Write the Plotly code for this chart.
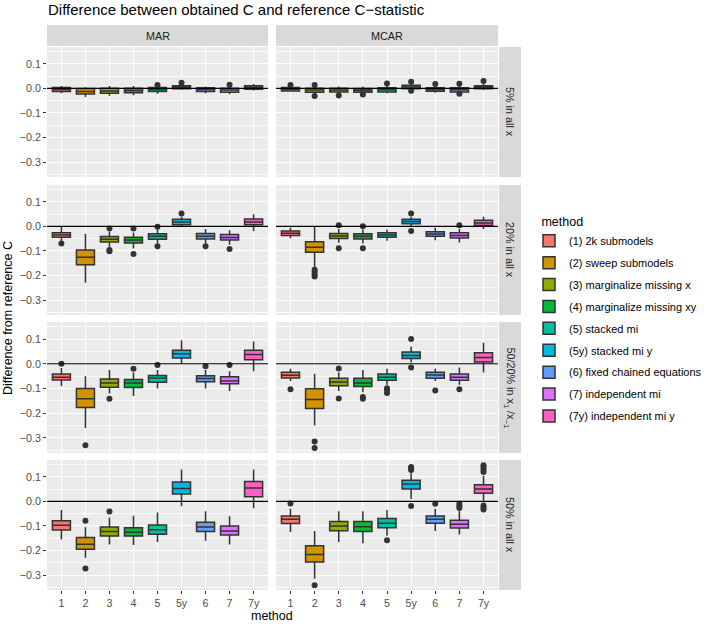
import plotly.graph_objects as go

# categories and labels
methods = ["1", "2", "3", "4", "5", "5y", "6", "7", "7y"]
method_names = ["(1) 2k submodels", "(2) sweep submodels", "(3) marginalize missing x",
                "(4) marginalize missing xy", "(5) stacked mi", "(5y) stacked mi y",
                "(6) fixed chained equations", "(7) independent mi", "(7y) independent mi y"]
colors = ["#F8766D", "#D39200", "#93AA00", "#00BA38", "#00C19F",
          "#00B9E3", "#619CFF", "#DB72FB", "#FF61C3"]
col_labels = ["MAR", "MCAR"]
row_labels = ["5% in all x", "20% in all x",
              "50/20% in x<sub>1</sub> /x<sub>−1</sub>", "50% in all x"]
ytick_vals = [-0.3, -0.2, -0.1, 0.0, 0.1]
ytick_text = ["−0.3", "−0.2", "−0.1", "0.0", "0.1"]

# box statistics (one dict per panel)
MAR_05 = dict(
    q1=[-0.012, -0.023, -0.020, -0.018, -0.012, -0.001, -0.012, -0.015, -0.003],
    med=[-0.004, -0.012, -0.010, -0.008, -0.004, 0.005, -0.004, -0.006, 0.004],
    q3=[0.004, 0.000, 0.001, 0.001, 0.004, 0.011, 0.003, 0.001, 0.011],
    lo=[-0.020, -0.035, -0.030, -0.028, -0.022, -0.005, -0.020, -0.024, -0.008],
    hi=[0.010, 0.005, 0.010, 0.010, 0.008, 0.015, 0.008, 0.008, 0.018],
    out=[[], [], [], [], [0.014], [0.023], [], [0.015], []])
MCAR_05 = dict(
    q1=[-0.010, -0.015, -0.014, -0.015, -0.014, -0.001, -0.011, -0.014, -0.001],
    med=[-0.003, -0.006, -0.006, -0.007, -0.005, 0.006, -0.004, -0.005, 0.005],
    q3=[0.004, 0.001, 0.001, 0.000, 0.003, 0.013, 0.003, 0.003, 0.011],
    lo=[-0.013, -0.022, -0.020, -0.020, -0.020, -0.005, -0.018, -0.018, -0.006],
    hi=[0.008, 0.010, 0.008, 0.008, 0.010, 0.020, 0.010, 0.010, 0.020],
    out=[[0.014], [0.014, -0.031], [-0.029], [-0.025], [0.020], [0.027, -0.009],
         [0.018], [0.019, -0.022], [0.030]])
MAR_20 = dict(
    q1=[-0.044, -0.156, -0.063, -0.067, -0.052, 0.007, -0.051, -0.055, 0.007],
    med=[-0.035, -0.126, -0.052, -0.055, -0.040, 0.018, -0.040, -0.045, 0.018],
    q3=[-0.026, -0.096, -0.041, -0.044, -0.030, 0.029, -0.029, -0.033, 0.030],
    lo=[-0.058, -0.230, -0.085, -0.090, -0.068, 0.000, -0.070, -0.075, -0.020],
    hi=[-0.002, -0.030, -0.022, -0.025, -0.012, 0.040, -0.010, -0.015, 0.050],
    out=[[-0.070], [], [-0.008, -0.096, -0.101], [-0.008, -0.112], [-0.001, -0.081],
         [0.053], [-0.081], [-0.092], []])
MCAR_20 = dict(
    q1=[-0.037, -0.105, -0.049, -0.051, -0.044, 0.011, -0.040, -0.047, 0.004],
    med=[-0.028, -0.085, -0.039, -0.040, -0.035, 0.020, -0.031, -0.037, 0.014],
    q3=[-0.019, -0.062, -0.029, -0.030, -0.026, 0.029, -0.022, -0.026, 0.025],
    lo=[-0.048, -0.167, -0.066, -0.070, -0.058, 0.000, -0.056, -0.065, -0.010],
    hi=[-0.005, -0.002, -0.010, -0.012, -0.012, 0.040, -0.005, -0.010, 0.040],
    out=[[], [-0.177, -0.185, -0.195, -0.204], [0.005, -0.089], [0.001, -0.089], [],
         [0.053, -0.019], [], [0.005], []])
MAR_5020 = dict(
    q1=[-0.066, -0.177, -0.095, -0.096, -0.075, 0.023, -0.073, -0.081, 0.016],
    med=[-0.055, -0.142, -0.078, -0.078, -0.058, 0.041, -0.060, -0.070, 0.038],
    q3=[-0.041, -0.100, -0.062, -0.064, -0.047, 0.055, -0.048, -0.053, 0.055],
    lo=[-0.090, -0.260, -0.120, -0.130, -0.100, 0.000, -0.100, -0.110, -0.030],
    hi=[-0.017, -0.050, -0.025, -0.035, -0.025, 0.095, -0.025, -0.030, 0.090],
    out=[[0.0], [-0.330], [-0.142], [-0.020], [-0.005], [], [-0.010], [-0.005], []])
MCAR_5020 = dict(
    q1=[-0.058, -0.181, -0.089, -0.092, -0.067, 0.021, -0.059, -0.067, 0.007],
    med=[-0.046, -0.145, -0.074, -0.078, -0.055, 0.033, -0.045, -0.055, 0.025],
    q3=[-0.034, -0.101, -0.059, -0.059, -0.041, 0.048, -0.034, -0.041, 0.045],
    lo=[-0.070, -0.250, -0.110, -0.115, -0.085, 0.005, -0.070, -0.085, -0.035],
    hi=[-0.020, -0.040, -0.035, -0.025, -0.020, 0.070, -0.020, -0.015, 0.085],
    out=[[-0.103], [-0.314, -0.341], [-0.019, -0.140], [-0.134, -0.142],
         [-0.099, -0.105, -0.118], [0.100, -0.015], [-0.108], [-0.103], []])
MAR_50 = dict(
    q1=[-0.116, -0.195, -0.141, -0.141, -0.134, 0.030, -0.123, -0.137, 0.019],
    med=[-0.097, -0.174, -0.122, -0.126, -0.115, 0.053, -0.104, -0.120, 0.055],
    q3=[-0.079, -0.147, -0.104, -0.107, -0.096, 0.079, -0.085, -0.100, 0.081],
    lo=[-0.155, -0.230, -0.175, -0.178, -0.165, -0.020, -0.160, -0.175, -0.028],
    hi=[-0.035, -0.105, -0.065, -0.058, -0.045, 0.130, -0.040, -0.060, 0.130],
    out=[[], [-0.079, -0.273], [-0.041], [], [], [], [], [], []])
MCAR_50 = dict(
    q1=[-0.090, -0.247, -0.119, -0.122, -0.107, 0.051, -0.089, -0.108, 0.033],
    med=[-0.073, -0.216, -0.100, -0.103, -0.089, 0.071, -0.073, -0.093, 0.051],
    q3=[-0.059, -0.181, -0.082, -0.082, -0.070, 0.086, -0.059, -0.077, 0.068],
    lo=[-0.125, -0.315, -0.165, -0.170, -0.140, 0.010, -0.120, -0.135, 0.003],
    hi=[-0.030, -0.120, -0.040, -0.040, -0.035, 0.115, -0.030, -0.040, 0.105],
    out=[[-0.008], [-0.342], [], [], [-0.158], [0.128, 0.135, 0.140, -0.019], [-0.009],
         [-0.009, -0.019, -0.027], [0.120, 0.130, 0.140, 0.148, -0.016, -0.025, -0.033]])

panels = [[MAR_05, MCAR_05], [MAR_20, MCAR_20], [MAR_5020, MCAR_5020], [MAR_50, MCAR_50]]

W, H = 709, 624
FONT = "Liberation Sans, Arial, sans-serif"


def px_x(p):
    return p / W


def px_y(p):
    return 1 - p / H


def label(text, x, y, size, angle=0, xanchor="center", color="#1A1A1A"):
    # text placed at window pixel (x, y)
    return dict(text=text, xref="paper", yref="paper", x=px_x(x), y=px_y(y),
                xanchor=xanchor, yanchor="middle", textangle=angle, showarrow=False,
                font=dict(size=size, color=color, family=FONT))


# panel pixel layout
col_px = [(47, 268), (276, 498)]
row_px = [(47, 177), (185, 315), (322, 453), (460, 590)]
strip_top = (25, 46)
strip_right = (499, 521)

fig = go.Figure()
layout = {}
shapes = []
annotations = []

for r in range(4):
    for c in range(2):
        i = r * 2 + c + 1
        sfx = "" if i == 1 else str(i)
        xa, ya = "x" + sfx, "y" + sfx
        d = panels[r][c]
        for k, m in enumerate(methods):
            fig.add_trace(go.Box(
                x=[m], q1=[d["q1"][k]], median=[d["med"][k]], q3=[d["q3"][k]],
                lowerfence=[d["lo"][k]], upperfence=[d["hi"][k]],
                fillcolor=colors[k], line=dict(color="#333333", width=1.5),
                width=0.75, whiskerwidth=0, boxpoints=False,
                name=method_names[k], legendgroup=method_names[k],
                showlegend=(i == 1), xaxis=xa, yaxis=ya, hoverinfo="skip"))
            if d["out"][k]:
                fig.add_trace(go.Scatter(
                    x=[m] * len(d["out"][k]), y=d["out"][k], mode="markers",
                    marker=dict(color="#333333", size=6), showlegend=False,
                    xaxis=xa, yaxis=ya, hoverinfo="skip"))
        bottom = r == 3
        left = c == 0
        layout["xaxis" + sfx] = dict(
            domain=[px_x(col_px[c][0]), px_x(col_px[c][1])], anchor=ya,
            type="category", categoryorder="array", categoryarray=methods,
            range=[-0.6, 8.6], showgrid=True, gridcolor="white", gridwidth=1.1,
            zeroline=False, showline=False, showticklabels=bottom, automargin=False,
            ticks="outside" if bottom else "", ticklen=3, tickcolor="#333333",
            tickfont=dict(size=10.7, color="#4D4D4D", family=FONT))
        layout["yaxis" + sfx] = dict(
            domain=[px_y(row_px[r][1]), px_y(row_px[r][0])], anchor=xa,
            range=[-0.361, 0.169], tickvals=ytick_vals, ticktext=ytick_text,
            showgrid=True, gridcolor="white", gridwidth=1.1, zeroline=False,
            minor=dict(tickvals=[-0.35, -0.25, -0.15, -0.05, 0.05, 0.15],
                       showgrid=True, gridcolor="#FAFAFA", gridwidth=0.6),
            showticklabels=left, ticks="outside" if left else "", ticklen=3,
            tickcolor="#333333", automargin=False,
            tickfont=dict(size=10.7, color="#4D4D4D", family=FONT))
        # horizontal reference line at 0
        shapes.append(dict(type="line", xref=xa + " domain", x0=0, x1=1,
                           yref=ya, y0=0, y1=0,
                           line=dict(color="black", width=1.2), layer="above"))

# strips
for c in range(2):
    shapes.append(dict(type="rect", xref="paper", yref="paper",
                       x0=px_x(col_px[c][0]), x1=px_x(col_px[c][1]),
                       y0=px_y(strip_top[1]), y1=px_y(strip_top[0]),
                       fillcolor="#D9D9D9", line=dict(width=0), layer="below"))
    annotations.append(label(col_labels[c], sum(col_px[c]) / 2, sum(strip_top) / 2, 10.8))
for r in range(4):
    shapes.append(dict(type="rect", xref="paper", yref="paper",
                       x0=px_x(strip_right[0]), x1=px_x(strip_right[1]),
                       y0=px_y(row_px[r][1]), y1=px_y(row_px[r][0]),
                       fillcolor="#D9D9D9", line=dict(width=0), layer="below"))
    annotations.append(label(row_labels[r], sum(strip_right) / 2, sum(row_px[r]) / 2,
                             10.8, angle=90))

# titles
annotations.append(label("Difference between obtained C and reference C−statistic",
                         46, 10, 15, xanchor="left", color="black"))
annotations.append(label("Difference from reference C", 8, 318, 12.5, angle=-90,
                         color="black"))
annotations.append(label("method", 272, 616, 12.5, color="black"))

fig.update_layout(
    width=W, height=H, margin=dict(l=0, r=0, t=0, b=0, autoexpand=False),
    paper_bgcolor="white", plot_bgcolor="#EBEBEB", boxmode="overlay",
    font=dict(family=FONT),
    shapes=shapes, annotations=annotations,
    legend=dict(x=px_x(529), y=px_y(210), xanchor="left", yanchor="top",
                title=dict(text="\u00a0\u00a0\u00a0method", font=dict(size=12.5, color="black")),
                font=dict(size=11, color="black"), traceorder="grouped",
                tracegroupgap=2.9, bgcolor="rgba(0,0,0,0)"),
    **layout)

# drop the default 8px page margin so the figure fills the window exactly
fig.write_html("out.html", config={"displayModeBar": False},
               post_script="document.body.style.margin='0px';")
